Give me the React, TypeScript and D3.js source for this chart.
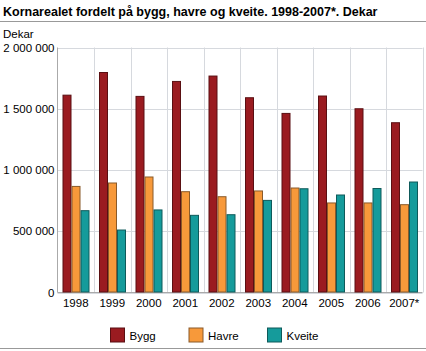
import React from 'react'
import { scaleBand, scaleLinear } from 'd3'

const years = ['1998', '1999', '2000', '2001', '2002', '2003', '2004', '2005', '2006', '2007*']
const series = ['Bygg', 'Havre', 'Kveite']
const bygg = [1615000, 1800000, 1605000, 1727000, 1771000, 1594000, 1466000, 1608000, 1504000, 1390000]
const havre = [870000, 898000, 947000, 827000, 786000, 833000, 857000, 735000, 735000, 721000]
const kveite = [672000, 514000, 678000, 634000, 639000, 756000, 851000, 800000, 853000, 906000]
const yTicks = [0, 500000, 1000000, 1500000, 2000000]
const colors = ['#9a1b20', '#f7993a', '#159b9b']
const strokes = ['#5a0f12', '#8a5a2a', '#0e5a5a']

const W = 426
const H = 351
const left = 57.5
const right = 422.5
const top = 47.5
const bottom = 292.5
const font = "'Liberation Sans', Arial, Helvetica, sans-serif"

const fmt = (v: number) => String(v).replace(/\B(?=(\d{3})+(?!\d))/g, ' ')

const App = () => {
    const x = scaleBand().domain(years).range([left, right])
    const inner = scaleBand().domain(series).range([5, 32])
    const y = scaleLinear().domain([0, 2000000]).range([bottom, top])
    const values = [bygg, havre, kveite]

    return (
        <svg width={W} height={H} style={{ position: 'absolute', left: 0, top: 0, fontFamily: font }}>
            <text x={3} y={16} fontSize={12.5} fontWeight="bold" fill="#000">
                Kornarealet fordelt på bygg, havre og kveite. 1998-2007*. Dekar
            </text>
            <line x1={0} x2={W} y1={21.5} y2={21.5} stroke="#999" />
            <text x={3} y={38} fontSize={11.5} fill="#000">Dekar</text>

            {yTicks.map(t => (
                <g key={t}>
                    <line x1={left} x2={right} y1={Math.round(y(t)) + 0.5} y2={Math.round(y(t)) + 0.5} stroke="#d6d9de" />
                    <text x={left - 3} y={y(t) + 4} fontSize={11.5} textAnchor="end" fill="#000">{fmt(t)}</text>
                </g>
            ))}
            {years.map(yr => (
                <line key={yr} x1={Math.round(x(yr)! + x.bandwidth()) + 0.5} x2={Math.round(x(yr)! + x.bandwidth()) + 0.5}
                    y1={top} y2={bottom} stroke="#d6d9de" />
            ))}
            <line x1={left} x2={left} y1={top} y2={bottom} stroke="#aaa" />
            <line x1={left} x2={right} y1={bottom} y2={bottom} stroke="#aaa" />

            {years.map((yr, i) => (
                <g key={yr}>
                    {series.map((s, j) => (
                        <rect key={s}
                            x={x(yr)! + inner(s)! + 0.5}
                            y={y(values[j][i]) + 0.5}
                            width={inner.bandwidth() - 1}
                            height={bottom - y(values[j][i]) - 1}
                            fill={colors[j]} stroke={strokes[j]} strokeWidth={1} />
                    ))}
                    <text x={x(yr)! + x.bandwidth() / 2} y={307} fontSize={11.5} textAnchor="middle" fill="#000">{yr}</text>
                </g>
            ))}

            {series.map((s, j) => (
                <g key={s} transform={`translate(${110 + j * 78.5},327.5)`}>
                    <rect x={0.5} y={0.5} width={14} height={14} fill={colors[j]} stroke={strokes[j]} />
                    <text x={19.5} y={12} fontSize={11.5} fill="#000">{s}</text>
                </g>
            ))}
            <line x1={0} x2={W} y1={348.5} y2={348.5} stroke="#999" />
        </svg>
    )
}

export default App
